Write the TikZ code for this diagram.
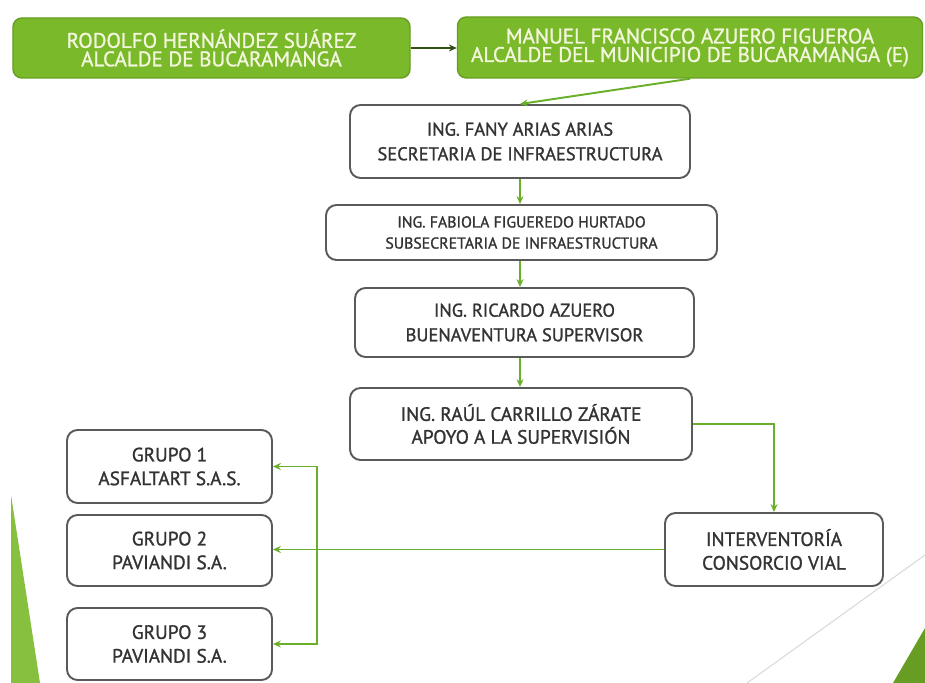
\documentclass[tikz,border=0pt]{standalone}
\usepackage{fontspec}
\setmainfont{PT Sans}[UprightFeatures={FakeBold=1.2}]
\usetikzlibrary{arrows.meta}
\definecolor{leafgreen}{HTML}{7AB929}
\definecolor{linegreen}{HTML}{69AF2A}
\definecolor{boxgray}{HTML}{5A5A5A}
\definecolor{textgray}{HTML}{333333}
\definecolor{paletext}{HTML}{F2F6DC}
\tikzset{
  topbox/.style={draw=leafgreen!85!black,fill=leafgreen,rounded corners=5pt,line width=0.8pt,
    text=paletext,align=center,inner sep=0pt,font=\fontsize{12}{10.5}\selectfont},
  orgbox/.style={draw=boxgray,fill=white,rounded corners=6pt,line width=1.1pt,
    text=textgray,align=center,inner sep=0pt,font=\fontsize{10.5}{14}\selectfont},
  link/.style={draw=linegreen,line width=1.1pt,-{Stealth[length=4.5pt,width=4pt]}}
}
\begin{document}
\begin{tikzpicture}
    \useasboundingbox (0,0) rectangle (18.5,-13.66);
    % backdrop
    \fill[leafgreen!90!white] (0.22,-9.9) -- (0.8,-13.66) -- (0.22,-13.66) -- cycle;
    \fill[leafgreen!85!black] (17.86,-13.66) -- (18.5,-12.56) -- (18.5,-13.66) -- cycle;
    \draw[black!15,line width=0.6pt] (14.94,-13.66) -- (18.5,-11.1);
    % mayors
    \node[topbox,minimum width=7.94cm,minimum height=1.2cm] (rodolfo) at (4.23,-0.96)
        {RODOLFO HERNÁNDEZ SUÁREZ\\ALCALDE DE BUCARAMANGA};
    \node[topbox,minimum width=9.3cm,minimum height=1.22cm] (manuel) at (13.8,-0.95)
        {MANUEL FRANCISCO AZUERO FIGUEROA\\ALCALDE DEL MUNICIPIO DE BUCARAMANGA (E)};
    % secretaria
    \node[orgbox,minimum width=6.8cm,minimum height=1.46cm] (fany) at (10.4,-2.83)
        {ING. FANY ARIAS ARIAS\\SECRETARIA DE INFRAESTRUCTURA};
    \node[orgbox,minimum width=7.82cm,minimum height=1.1cm,font=\fontsize{9}{12}\selectfont] (fabiola) at (10.43,-4.65)
        {ING. FABIOLA FIGUEREDO HURTADO\\SUBSECRETARIA DE INFRAESTRUCTURA};
    \node[orgbox,minimum width=6.78cm,minimum height=1.38cm] (ricardo) at (10.49,-6.45)
        {ING. RICARDO AZUERO\\BUENAVENTURA SUPERVISOR};
    \node[orgbox,minimum width=6.84cm,minimum height=1.44cm,font=\fontsize{11}{13}\selectfont] (raul) at (10.42,-8.48)
        {ING. RAÚL CARRILLO ZÁRATE\\APOYO A LA SUPERVISIÓN};
    % contratistas
    \node[orgbox,minimum width=4.1cm,minimum height=1.46cm,font=\fontsize{11}{13.5}\selectfont] (grupo1) at (3.39,-9.33)
        {GRUPO 1\\ASFALTART S.A.S.};
    \node[orgbox,minimum width=4.1cm,minimum height=1.42cm,font=\fontsize{11}{13.5}\selectfont] (grupo2) at (3.39,-11.01)
        {GRUPO 2\\PAVIANDI S.A.};
    \node[orgbox,minimum width=4.1cm,minimum height=1.44cm,font=\fontsize{11}{13.5}\selectfont] (grupo3) at (3.39,-12.88)
        {GRUPO 3\\PAVIANDI S.A.};
    \node[orgbox,minimum width=4.36cm,minimum height=1.46cm,font=\fontsize{11}{13.5}\selectfont] (interv) at (15.48,-10.99)
        {INTERVENTORÍA\\CONSORCIO VIAL};
    \coordinate (trunk) at (6.34,-10.99);
    % links
    \draw[link,draw=black!55!linegreen] (rodolfo.east) -- (rodolfo.east -| manuel.west);
    \draw[link] (manuel.south) -- (fany.north);
    \draw[link] (fany.south) -- (fany.south |- fabiola.north);
    \draw[link] (fany.south |- fabiola.south) -- (fany.south |- ricardo.north);
    \draw[link] (fany.south |- ricardo.south) -- (fany.south |- raul.north);
    \draw[link] (raul.east) -| (interv.north);
    \draw[link] (interv.west) -- (interv.west -| grupo2.east);
    \draw[link] (trunk) |- (grupo1.east);
    \draw[link] (trunk) |- (grupo3.east);
\end{tikzpicture}
\end{document}
